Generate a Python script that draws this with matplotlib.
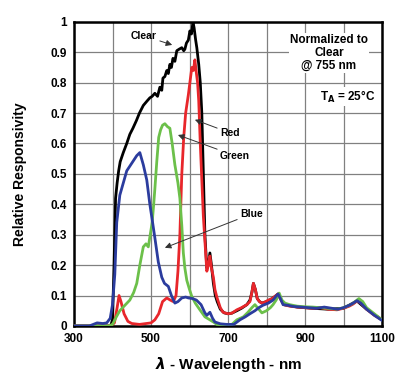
import numpy as np
import matplotlib.pyplot as plt
from matplotlib.ticker import MultipleLocator, FixedLocator

plt.rcParams['font.family'] = ['Liberation Sans', 'DejaVu Sans']
plt.rcParams['font.weight'] = 'bold'

# (nm, relative responsivity)
clear_nm = [300, 395, 400, 404, 408, 412, 416, 420, 428, 437, 445, 453, 462, 470, 480, 490,
            497, 503, 510, 517, 523, 528, 531, 536, 541, 545, 549, 553, 557, 562, 567, 573,
            580, 585, 588, 592, 597, 601, 605, 609, 612, 616, 619, 624, 628, 632, 636, 640,
            645, 649, 653, 657, 662, 667, 672, 680, 690, 700, 710, 723, 735, 749, 757, 762,
            766, 771, 776, 782, 788, 800, 815, 830, 845, 880, 920, 960, 1000, 1035, 1060, 1100]
clear_val = [0, 0, 0.02, 0.2, 0.42, 0.47, 0.51, 0.54, 0.57, 0.6, 0.63, 0.65, 0.675, 0.7, 0.725, 0.74,
             0.75, 0.755, 0.765, 0.755, 0.785, 0.775, 0.815, 0.82, 0.84, 0.83, 0.86, 0.85, 0.88, 0.87, 0.905, 0.91,
             0.915, 0.905, 0.91, 0.93, 0.94, 0.97, 0.96, 1.0, 0.98, 0.94, 0.915, 0.86, 0.8, 0.7, 0.5, 0.3,
             0.19, 0.2, 0.24, 0.2, 0.14, 0.1, 0.08, 0.055, 0.043, 0.04, 0.042, 0.05, 0.058, 0.07, 0.085, 0.11,
             0.14, 0.12, 0.09, 0.08, 0.075, 0.08, 0.09, 0.105, 0.07, 0.062, 0.058, 0.055, 0.058, 0.082, 0.055, 0.02]

red_nm = [300, 395, 405, 412, 417, 422, 430, 440, 450, 470, 500, 510, 520, 530, 541, 550,
          558, 565, 570, 575, 580, 585, 590, 597, 601, 606, 610, 614, 618, 621, 624, 628,
          632, 636, 640, 645, 649, 653, 657, 662, 666, 671, 680, 687, 700, 710, 723, 735,
          749, 757, 762, 766, 771, 776, 782, 788, 795, 805, 815, 823, 830, 838, 845, 860,
          880, 900, 920, 940, 960, 983, 1000, 1015, 1025, 1035, 1045, 1060, 1080, 1100]
red_val = [0, 0, 0.01, 0.06, 0.1, 0.08, 0.04, 0.015, 0.008, 0.005, 0.01, 0.02, 0.04, 0.08, 0.092, 0.085,
           0.08, 0.1, 0.18, 0.3, 0.5, 0.62, 0.7, 0.76, 0.8, 0.85, 0.84, 0.875, 0.83, 0.8, 0.74, 0.6,
           0.48, 0.36, 0.28, 0.18, 0.2, 0.23, 0.19, 0.16, 0.12, 0.095, 0.06, 0.045, 0.04, 0.042, 0.053, 0.06,
           0.07, 0.08, 0.11, 0.14, 0.12, 0.09, 0.08, 0.075, 0.078, 0.085, 0.09, 0.098, 0.105, 0.085, 0.07, 0.065,
           0.062, 0.06, 0.058, 0.06, 0.055, 0.053, 0.058, 0.065, 0.072, 0.082, 0.075, 0.055, 0.035, 0.02]

green_nm = [300, 390, 400, 410, 419, 430, 445, 455, 463, 471, 480, 487, 493, 498, 503, 507,
            510, 515, 520, 525, 530, 536, 543, 549, 555, 562, 570, 575, 580, 584, 588, 593,
            600, 606, 615, 627, 640, 653, 662, 671, 690, 710, 723, 740, 752, 762, 770, 778,
            788, 800, 810, 817, 825, 833, 840, 848, 860, 880, 900, 920, 940, 960, 983, 1000,
            1015, 1025, 1040, 1050, 1060, 1080, 1100]
green_val = [0, 0, 0.005, 0.03, 0.05, 0.065, 0.085, 0.11, 0.14, 0.2, 0.26, 0.27, 0.26, 0.3, 0.34, 0.4,
             0.45, 0.54, 0.62, 0.645, 0.66, 0.665, 0.655, 0.65, 0.6, 0.53, 0.47, 0.42, 0.33, 0.24, 0.19, 0.15,
             0.12, 0.097, 0.075, 0.053, 0.03, 0.02, 0.013, 0.005, 0.003, 0.005, 0.02, 0.03, 0.045, 0.06, 0.07, 0.058,
             0.043, 0.05, 0.06, 0.07, 0.085, 0.108, 0.085, 0.075, 0.07, 0.065, 0.063, 0.062, 0.06, 0.058, 0.055, 0.06,
             0.068, 0.075, 0.09, 0.08, 0.06, 0.04, 0.02]

blue_nm = [300, 340, 360, 375, 385, 394, 400, 406, 411, 419, 428, 437, 450, 463, 471, 480,
           489, 497, 503, 510, 519, 528, 535, 545, 553, 562, 570, 580, 590, 597, 608, 618,
           630, 640, 645, 653, 660, 666, 680, 697, 715, 731, 745, 757, 770, 780, 791, 805,
           817, 825, 830, 836, 843, 855, 870, 890, 910, 930, 950, 970, 985, 1000, 1015, 1025,
           1035, 1045, 1060, 1080, 1100]
blue_val = [0, 0, 0.01, 0.008, 0.01, 0.025, 0.07, 0.17, 0.34, 0.43, 0.47, 0.51, 0.535, 0.56, 0.57, 0.53,
            0.48, 0.4, 0.35, 0.29, 0.21, 0.16, 0.14, 0.13, 0.1, 0.075, 0.08, 0.092, 0.095, 0.092, 0.09, 0.085,
            0.07, 0.043, 0.035, 0.045, 0.025, 0.013, 0.007, 0.005, 0.005, 0.02, 0.03, 0.04, 0.05, 0.06, 0.068, 0.075,
            0.085, 0.098, 0.105, 0.09, 0.07, 0.068, 0.064, 0.062, 0.06, 0.058, 0.062, 0.058, 0.055, 0.06, 0.068, 0.075,
            0.083, 0.075, 0.055, 0.035, 0.018]

x_labels = [300, 500, 700, 900, 1100]

fig = plt.figure(figsize=(4.0, 3.83), dpi=100)
ax = fig.add_axes([0.185, 0.149, 0.77, 0.794])

ax.plot(clear_nm, clear_val, color='black', lw=2.0, zorder=3)
ax.plot(red_nm, red_val, color='#e8262b', lw=2.0, zorder=4)
ax.plot(green_nm, green_val, color='#6cc04a', lw=2.0, zorder=5)
ax.plot(blue_nm, blue_val, color='#2b3c9e', lw=2.0, zorder=6)

ax.set_xlim(300, 1100)
ax.set_ylim(0, 1)
ax.xaxis.set_major_locator(FixedLocator(x_labels))
ax.xaxis.set_minor_locator(MultipleLocator(100))
ax.yaxis.set_major_locator(MultipleLocator(0.1))
ax.set_yticklabels(['0' if abs(v) < 1e-9 else ('1' if abs(v - 1) < 1e-9 else '%.1f' % v)
                    for v in ax.get_yticks()])
ax.grid(True, which='both', axis='x', color='#808080', lw=0.9)
ax.grid(True, which='major', axis='y', color='#808080', lw=0.9)
ax.tick_params(which='both', length=0, labelsize=8.5, pad=5)
for s in ax.spines.values():
    s.set_linewidth(1.8)

ax.set_xlabel(r'$\lambda$ - Wavelength - nm', fontsize=11, fontweight='bold', labelpad=7)
ax.set_ylabel('Relative Responsivity', fontsize=10, fontweight='bold', labelpad=17)

arrow = dict(arrowstyle='-|>', color='#333333', lw=0.7, mutation_scale=9, shrinkA=0, shrinkB=0)
ax.annotate('Clear', xy=(555, 0.924), xytext=(482, 0.954), fontsize=7.5,
            ha='center', va='center', arrowprops=arrow, zorder=7)
ax.annotate('Red', xy=(614, 0.678), xytext=(679, 0.635), fontsize=7.5,
            ha='left', va='center', arrowprops=arrow, zorder=7)
ax.annotate('Green', xy=(570, 0.628), xytext=(679, 0.56), fontsize=7.5,
            ha='left', va='center', arrowprops=arrow, zorder=7)
ax.annotate('Blue', xy=(536, 0.257), xytext=(731, 0.368), fontsize=7.5,
            ha='left', va='center', arrowprops=arrow, zorder=7)

ax.text(0.828, 0.898, 'Normalized to\nClear\n@ 755 nm', transform=ax.transAxes,
        fontsize=8.5, fontweight='bold', ha='center', va='center', linespacing=1.1,
        bbox=dict(facecolor='white', edgecolor='none', pad=1))
ax.text(0.98, 0.753, r'T$_\mathbf{A}$ = 25°C', transform=ax.transAxes,
        fontsize=8.5, fontweight='bold', ha='right', va='center',
        bbox=dict(facecolor='white', edgecolor='none', pad=1))

fig.savefig('out.png', dpi=100)
